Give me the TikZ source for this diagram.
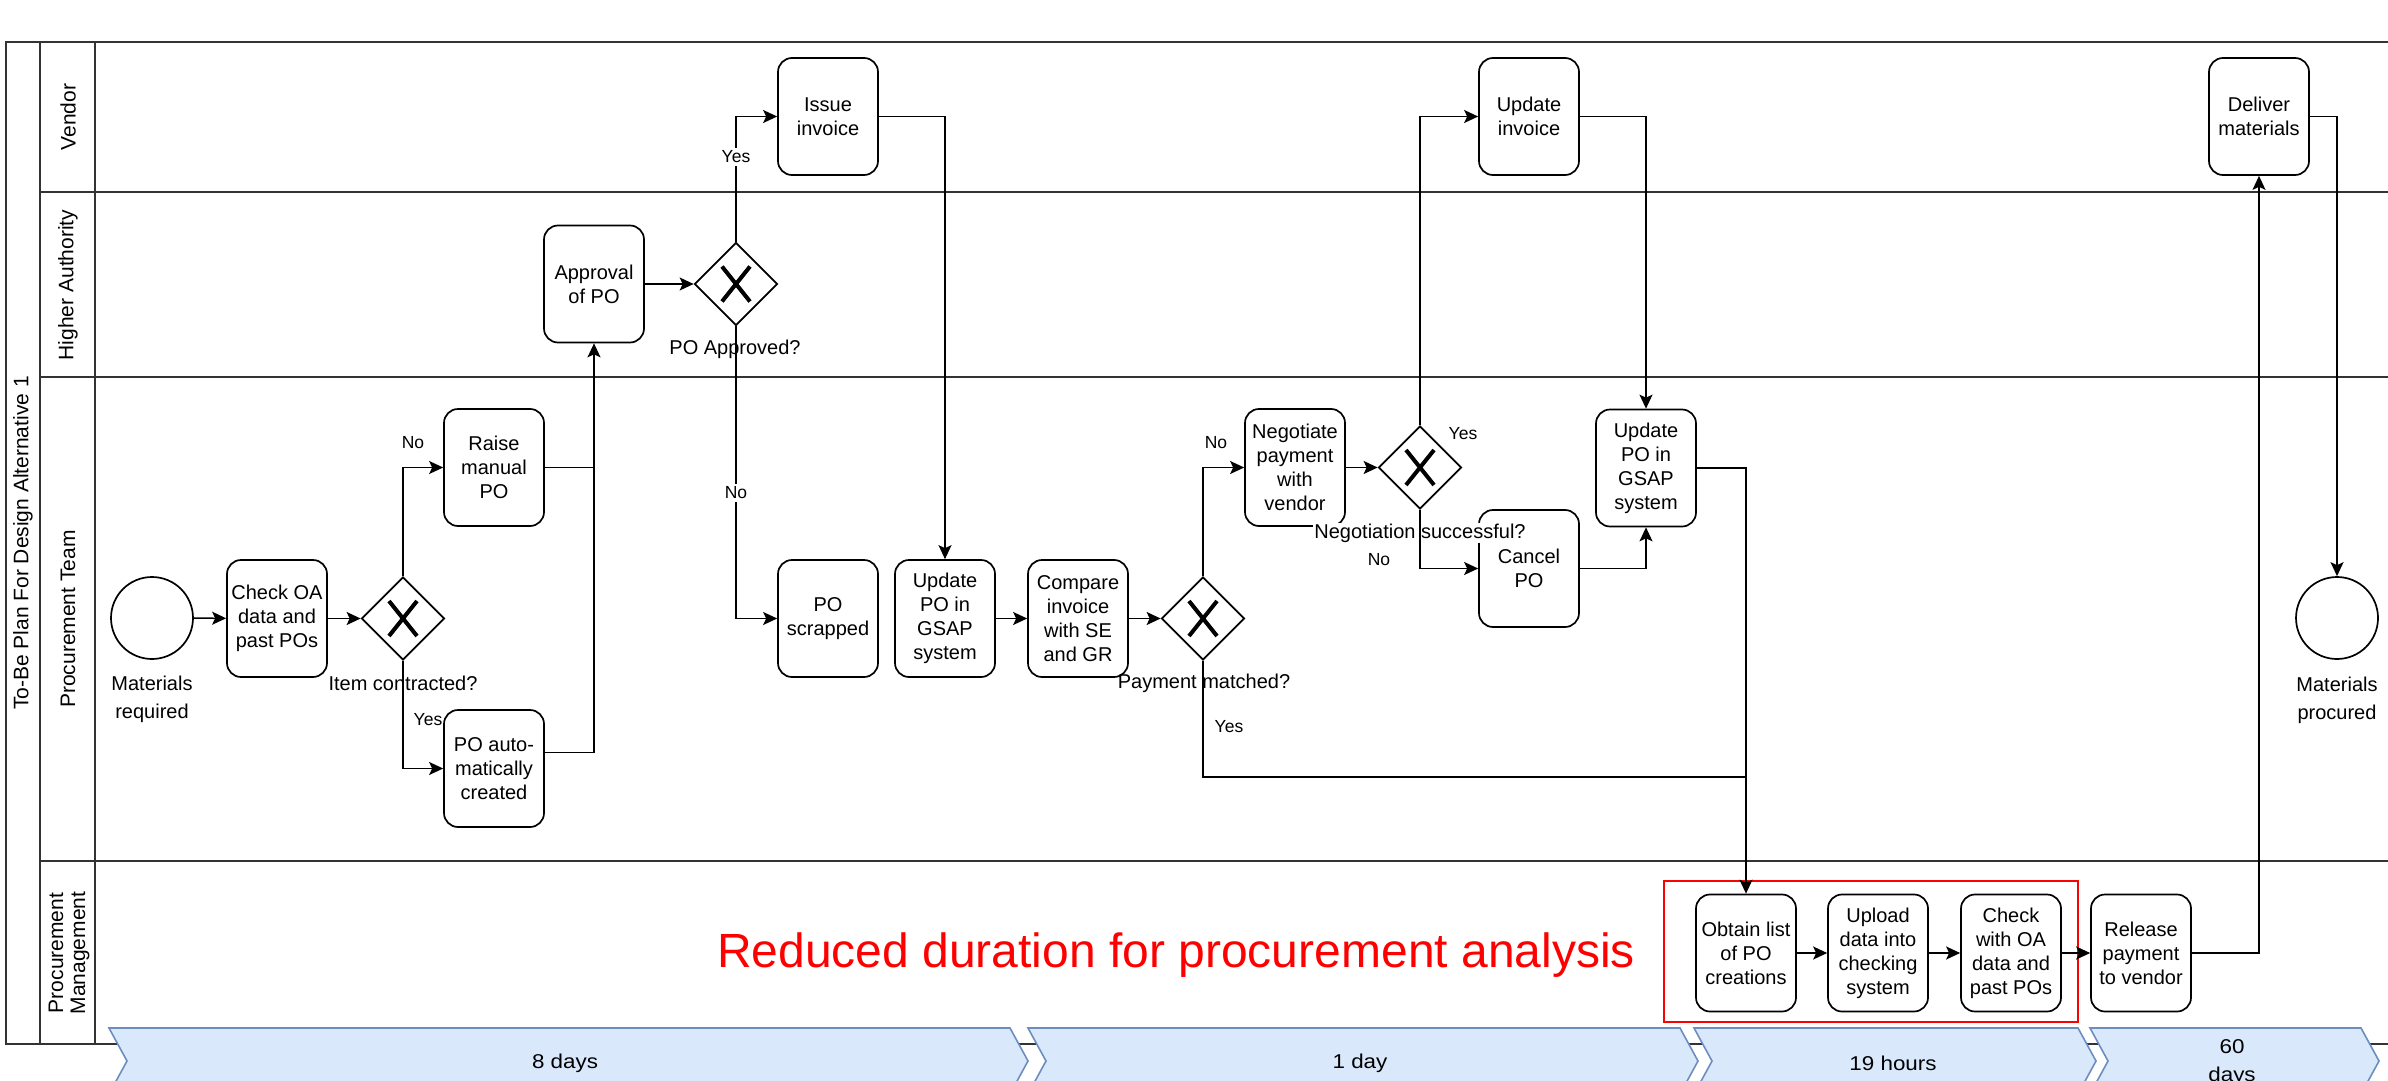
\documentclass[tikz,border=0pt]{standalone}
\usepackage{fontspec}
\setmainfont{Liberation Sans}
\newfontfamily\chevfont[FakeStretch=1.12]{Liberation Sans}
\usetikzlibrary{shapes.geometric,arrows.meta}
\definecolor{chevfill}{HTML}{DAE8FC}
\definecolor{chevdraw}{HTML}{6C8EBF}
\definecolor{poolline}{HTML}{333333}
\begin{document}
\begin{tikzpicture}[x=0.5pt,y=-0.5pt,
  task/.style={draw, rounded corners=7pt, line width=0.85pt, minimum width=50pt, minimum height=58.5pt,
    inner sep=1pt, align=center, fill=white, font=\fontsize{10pt}{12pt}\selectfont},
  gw/.style={diamond, draw, line width=0.85pt, minimum width=41.5pt, minimum height=41.5pt, inner sep=0pt, fill=white,
    path picture={\draw[line width=2pt]
      ([shift={(-7pt,-8.75pt)}]path picture bounding box.center) -- ([shift={(7pt,8.75pt)}]path picture bounding box.center)
      ([shift={(-7pt,8.75pt)}]path picture bounding box.center) -- ([shift={(7pt,-8.75pt)}]path picture bounding box.center);}},
  evt/.style={circle, draw, line width=0.85pt, minimum size=41pt, inner sep=0pt, fill=white},
  flow/.style={line width=0.75pt, -{Stealth[length=7pt,width=6.5pt,inset=1.5pt]}},
  plainline/.style={line width=0.75pt},
  lbl/.style={font=\fontsize{8.75pt}{10pt}\selectfont, inner sep=1pt},
  wlbl/.style={lbl, fill=white, inner sep=1.5pt},
  gwlbl/.style={font=\fontsize{10pt}{12pt}\selectfont, inner sep=0.5pt},
  evlbl/.style={font=\fontsize{10pt}{14pt}\selectfont, align=center},
  lane/.style={draw=poolline, line width=1pt},
  hdr/.style={rotate=90, font=\fontsize{10.5pt}{11pt}\selectfont, align=center},
  chev/.style={fill=chevfill, draw=chevdraw, line width=0.8pt},
  chevtxt/.style={font=\chevfont\fontsize{10pt}{14pt}\selectfont, align=center},
]
\useasboundingbox (0,0) rectangle (2388,1081);
\clip (0,0) rectangle (2388,1081);
\fill[white] (0,0) rectangle (2388,1081);

% pool and lanes
\draw[lane] (6,42) rectangle (2420,1044);
\draw[lane] (40,42) -- (40,1044);
\draw[lane] (95,42) -- (95,1044);
\draw[lane] (40,192) -- (2420,192);
\draw[lane] (40,377) -- (2420,377);
\draw[lane] (40,861) -- (2420,861);

\node[hdr] (title) at (23,543) {To-Be Plan For Design Alternative 1};
\node[hdr] (hv) at (68,117) {Vendor};
\node[hdr] (hha) at (68,285) {Higher Authority};
\node[hdr] (hpt) at (68,619) {Procurement Team};
\node[hdr] (hpm) at (69,953) {Procurement\\Management};

% chevrons
\path[chev] (109,1028) -- (1010,1028) -- (1028,1061) -- (1010,1094) -- (109,1094) -- (127,1061) -- cycle;
\path[chev] (1028,1028) -- (1680,1028) -- (1698,1061) -- (1680,1094) -- (1028,1094) -- (1046,1061) -- cycle;
\path[chev] (1694,1028) -- (2078,1028) -- (2096,1061) -- (2078,1094) -- (1694,1094) -- (1712,1061) -- cycle;
\path[chev] (2090,1028) -- (2361,1028) -- (2379,1061) -- (2361,1094) -- (2090,1094) -- (2108,1061) -- cycle;
\node[chevtxt] (t1) at (565,1063) {8 days};
\node[chevtxt] (t2) at (1360,1063) {1 day};
\node[chevtxt] (t3) at (1893,1063) {19 hours};
\node[chevtxt] (t4) at (2232,1063) {60\\days};

% red highlight
\draw[red, line width=1pt] (1664,881) rectangle (2078,1022);
\node[font=\fontsize{24pt}{28pt}\selectfont, text=red, anchor=base] (red) at (1176,967) {Reduced duration for procurement analysis};

% events
\node[evt] (start) at (152,618) {};
\node[evlbl] (startl) at (152,699) {Materials\\required};
\node[evt] (endc) at (2337,618) {};
\node[evlbl] (endl) at (2337,700) {Materials\\procured};

% tasks
\node[task] (chk) at (277,618.5) {Check OA\\data and\\past POs};
\node[task] (raise) at (494,467.5) {Raise\\manual\\PO};
\node[task] (auto) at (494,768.5) {PO auto-\\matically\\created};
\node[task] (appr) at (594,284) {Approval\\of PO};
\node[task] (issue) at (828,116.5) {Issue\\invoice};
\node[task] (scrap) at (828,618.5) {PO\\scrapped};
\node[task] (upd1) at (945,618.5) {Update\\PO in\\GSAP\\system};
\node[task] (comp) at (1078,618.5) {Compare\\invoice\\with SE\\and GR};
\node[task] (nego) at (1295,467.5) {Negotiate\\payment\\with\\vendor};
\node[task] (updinv) at (1529,116.5) {Update\\invoice};
\node[task] (cancel) at (1529,568.5) {Cancel\\PO};
\node[task] (upd2) at (1646,468) {Update\\PO in\\GSAP\\system};
\node[task] (deliver) at (2259,116.5) {Deliver\\materials};
\node[task] (obtain) at (1746,953) {Obtain list\\of PO\\creations};
\node[task] (upload) at (1878,953) {Upload\\data into\\checking\\system};
\node[task] (check2) at (2011,953) {Check\\with OA\\data and\\past POs};
\node[task] (release) at (2141,953) {Release\\payment\\to vendor};

% gateways
\node[gw] (g1) at (403,618.5) {};
\node[gw] (g2) at (736,284) {};
\node[gw] (g3) at (1203,618.5) {};
\node[gw] (g4) at (1420,467.5) {};

\node[gwlbl] (g1l) at (403,683) {Item contracted?};
\node[gwlbl] (g2l) at (735,349) {PO Approved?};
\node[gwlbl] (g3l) at (1204,683) {Payment matched?};
\node[gwlbl, fill=white] (g4l) at (1420,533) {Negotiation successful?};

% connectors
\draw[flow] (start) -- (chk);
\draw[flow] (chk) -- (g1);
\draw[flow] (g1.north) |- (raise.west);
\draw[flow] (g1.south) |- (auto.west);
\draw[flow] (raise.east) -| (appr.south);
\draw[plainline] ([yshift=8pt]auto.east) -| (appr.south |- raise.east);
\draw[flow] (appr) -- (g2);
\draw[flow] (g2.north) |- (issue.west);
\draw[flow] (g2.south) |- (scrap.west);
\draw[flow] (issue.east) -| (upd1.north);
\draw[flow] (upd1) -- (comp);
\draw[flow] (comp) -- (g3);
\draw[flow] (g3.north) |- (nego.west);
\draw[flow] (nego) -- (g4);
\draw[flow] (g4.north) |- (updinv.west);
\draw[flow] (g4.south) |- (cancel.west);
\draw[flow] (updinv.east) -| (upd2.north);
\draw[flow] (cancel.east) -| (upd2.south);
\draw[flow] (upd2.east) -| (obtain.north);
\coordinate (jn) at (1746,777);
\draw[plainline] (g3.south) |- (jn);
\draw[flow] (obtain) -- (upload);
\draw[flow] (upload) -- (check2);
\draw[flow] (check2) -- (release);
\draw[flow] (release.east) -| (deliver.south);
\draw[flow] (deliver.east) -| (endc.north);

% flow labels
\node[lbl] (l1) at (413,443) {No};
\node[lbl] (l2) at (428,720) {Yes};
\node[wlbl] (l3) at (736,157) {Yes};
\node[wlbl] (l4) at (736,493) {No};
\node[lbl] (l5) at (1216,443) {No};
\node[lbl] (l6) at (1229,727) {Yes};
\node[lbl] (l7) at (1463,434) {Yes};
\node[lbl] (l8) at (1379,560) {No};
\end{tikzpicture}
\end{document}
